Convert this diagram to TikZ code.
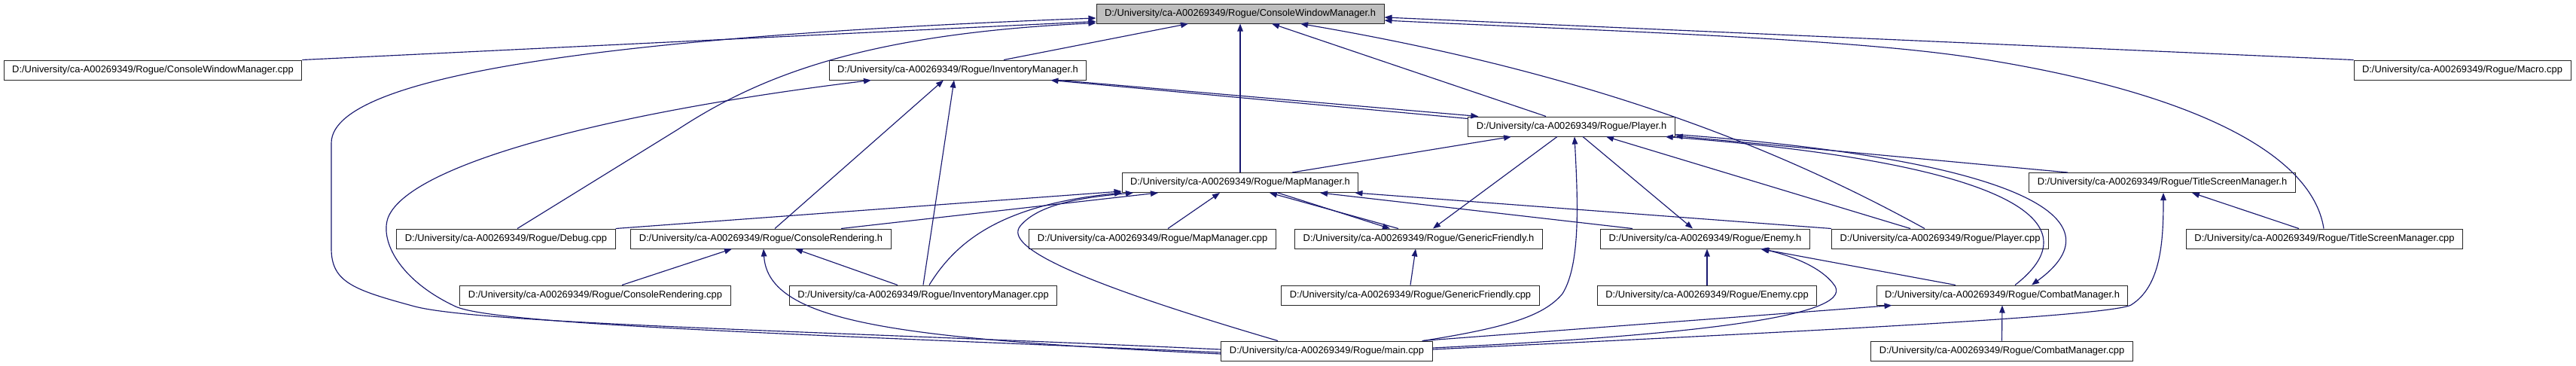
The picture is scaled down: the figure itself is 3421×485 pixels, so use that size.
\documentclass[tikz,border=0pt]{standalone}
\usepackage{fontspec}
\setmainfont{Liberation Sans}
\usepackage{tikz}
\usetikzlibrary{arrows.meta}
\definecolor{edgec}{HTML}{191970}
\definecolor{rootc}{HTML}{BFBFBF}
\newcommand{\rpath}{D:/University/ca-A00269349/Rogue/}
\tikzset{
  file/.style={draw=black!85,line width=1pt,fill=white,minimum height=26pt,inner xsep=11pt,inner ysep=0pt,font=\fontsize{12.9}{14}\selectfont},
  root/.style={file,fill=rootc},
  dep/.style={-{Triangle[length=10pt,width=7.5pt]},edgec,line width=1.15pt}
}
\begin{document}
\begin{tikzpicture}[x=1pt,y=-1pt]
\useasboundingbox[fill=white] (0,0) rectangle (3421,485);
\node[root] (cwmh) at (1647,18) {\rpath ConsoleWindowManager.h};
\node[file] (cwmcpp) at (203,93) {\rpath ConsoleWindowManager.cpp};
\node[file] (imh) at (1272,93) {\rpath InventoryManager.h};
\node[file] (macro) at (3270,93) {\rpath Macro.cpp};
\node[file] (playerh) at (2087,168) {\rpath Player.h};
\node[file] (mmh) at (1647,242.5) {\rpath MapManager.h};
\node[file] (tsmh) at (2871.5,242.5) {\rpath TitleScreenManager.h};
\node[file] (debug) at (672,317) {\rpath Debug.cpp};
\node[file] (crh) at (1010.5,317) {\rpath ConsoleRendering.h};
\node[file] (mmcpp) at (1530.5,317) {\rpath MapManager.cpp};
\node[file] (gfh) at (1884,317) {\rpath GenericFriendly.h};
\node[file] (enemyh) at (2264.5,317) {\rpath Enemy.h};
\node[file] (playercpp) at (2576.5,317) {\rpath Player.cpp};
\node[file] (tsmcpp) at (3087,317) {\rpath TitleScreenManager.cpp};
\node[file] (crcpp) at (790.5,392) {\rpath ConsoleRendering.cpp};
\node[file] (imcpp) at (1226,392) {\rpath InventoryManager.cpp};
\node[file] (gfcpp) at (1873,392) {\rpath GenericFriendly.cpp};
\node[file] (enemycpp) at (2267,392) {\rpath Enemy.cpp};
\node[file] (cmh) at (2659,392) {\rpath CombatManager.h};
\node[file] (maincpp) at (1762,466) {\rpath main.cpp};
\node[file] (cmcpp) at (2658.5,466) {\rpath CombatManager.cpp};
\draw[dep] (cwmcpp.north east) -- ([yshift=3pt]cwmh.south west);
\draw[dep] ([yshift=2pt]maincpp.west) .. controls (1100,440) and (640,430) .. (551,407) .. controls (470,385) and (440,375) .. (440,330) -- (440,190) .. controls (440,90) and (900,45) .. ([yshift=-6pt]cwmh.west);
\draw[dep] ([xshift=15pt]debug.north) -- (900,172) .. controls (1010,100) and (1150,45) .. ([yshift=1pt]cwmh.south west);
\draw[dep] ([xshift=61pt]imh.north) -- ([xshift=-69pt]cwmh.south);
\draw[dep] (mmh.north) -- (cwmh.south);
\draw[dep] ([xshift=-34pt]playerh.north) -- ([xshift=42pt]cwmh.south);
\draw[dep] ([xshift=-20.5pt]playercpp.north) .. controls (2350,190) and (2100,95) .. ([xshift=80pt]cwmh.south);
\draw[dep] (macro.north west) -- ([yshift=-5pt]cwmh.east);
\draw[dep] ([xshift=-1pt]tsmcpp.north) .. controls (3070,200) and (2900,120) .. (2623,77) .. controls (2450,50) and (2100,40) .. ([yshift=-9pt]cwmh.east);
\draw[dep] ([yshift=-2pt]maincpp.west) .. controls (1100,445) and (660,432) .. (605,407) .. controls (530,372) and (505,320) .. (515,290) .. controls (540,220) and (800,150) .. ([xshift=-115pt]imh.south);
\draw[dep] ([xshift=18.5pt]crh.north) -- ([xshift=-19pt]imh.south);
\draw[dep] (imcpp.north) -- ([xshift=-5pt]imh.south);
\draw[dep] ([yshift=-3pt]playerh.north west) -- ([xshift=-48pt]imh.south east);
\draw[dep] ([xshift=-36pt]imh.south east) -- ([xshift=14pt]playerh.north west);
\draw[dep] ([xshift=69pt]mmh.north) -- ([xshift=-80pt]playerh.south);
\draw[dep] ([xshift=128pt]maincpp.north) .. controls (2000,435) and (2050,420) .. (2075,390) .. controls (2100,350) and (2095,260) .. ([xshift=4pt]playerh.south);
\draw[dep] ([xshift=-39.5pt]playercpp.north) -- ([xshift=46pt]playerh.south);
\draw[dep] ([xshift=-125.5pt]tsmh.north) -- ([yshift=1pt]playerh.south east);
\draw[dep] ([xshift=17pt]cmh.north) .. controls (2790,290) and (2650,215) .. ([xshift=-13pt]playerh.south east);
\draw[dep] ([yshift=3pt]playerh.south east) .. controls (2680,212) and (2820,290) .. ([xshift=39pt]cmh.north);
\draw[dep] ([xshift=-19pt]playerh.south) -- ([xshift=19pt]gfh.north);
\draw[dep] ([xshift=50pt]mmh.south) -- ([xshift=-38pt]gfh.north);
\draw[dep] ([xshift=-27pt]gfh.north) -- ([xshift=39pt]mmh.south);
\draw[dep] (gfcpp.north) -- ([xshift=-4pt]gfh.south);
\draw[dep] ([xshift=20.5pt]mmcpp.north) -- ([xshift=-27pt]mmh.south);
\draw[dep] ([xshift=15pt]playerh.south) -- ([xshift=-16.5pt]enemyh.north);
\draw[dep] ([xshift=-96.5pt]enemyh.north) -- ([xshift=106pt]mmh.south);
\draw[dep] (playercpp.north west) -- ([xshift=-5pt]mmh.south east);
\draw[dep] (debug.north east) -- ([yshift=2pt]mmh.south west);
\draw[dep] ([xshift=106.5pt]crh.north) -- ([xshift=-109pt]mmh.south);
\draw[dep] ([xshift=8pt]imcpp.north) .. controls (1270,320) and (1330,272) .. ([xshift=-157pt]mmh.south);
\draw[dep] ([xshift=-65pt]maincpp.north) .. controls (1450,380) and (1330,330) .. (1355,300) .. controls (1380,270) and (1440,262) .. ([xshift=-142pt]mmh.south);
\draw[dep] ([xshift=35.5pt]crcpp.north) -- ([xshift=-38.5pt]crh.south);
\draw[dep] ([xshift=-34pt]imcpp.north) -- ([xshift=45.5pt]crh.south);
\draw[dep] ([yshift=-4pt]maincpp.west) .. controls (1200,450) and (1020,430) .. ([xshift=3.5pt]crh.south);
\draw[dep] ([xshift=-14pt]maincpp.north east) -- ([xshift=21pt]cmh.south west);
\draw[dep] ([yshift=4pt]maincpp.east) .. controls (2250,445) and (2460,420) .. (2437,380) .. controls (2420,355) and (2380,340) .. ([xshift=75pt]enemyh.south);
\draw[dep] ([yshift=2pt]maincpp.east) .. controls (2400,440) and (2800,420) .. (2830,405) .. controls (2870,380) and (2873,320) .. ([xshift=1.5pt]tsmh.south);
\draw[dep] (enemycpp.north) -- ([xshift=2.5pt]enemyh.south);
\draw[dep] ([xshift=-62pt]cmh.north) -- ([xshift=73.5pt]enemyh.south);
\draw[dep] (cmcpp.north) -- (cmh.south);
\draw[dep] ([xshift=-34pt]tsmcpp.north) -- ([xshift=39.5pt]tsmh.south);
\end{tikzpicture}
\end{document}
